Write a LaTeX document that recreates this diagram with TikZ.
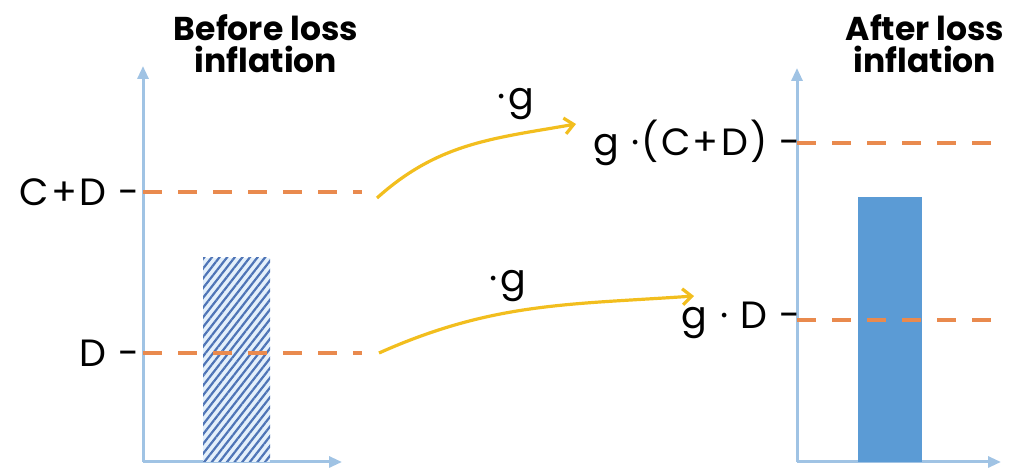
\documentclass[tikz,border=0pt]{standalone}
\usepackage{fontspec}
\setmainfont{Poppins}
\usetikzlibrary{arrows.meta,patterns.meta}

\definecolor{axisblue}{RGB}{160,195,228}
\definecolor{lvlorange}{RGB}{233,138,78}
\definecolor{arrgold}{RGB}{242,190,30}
\definecolor{barblue}{RGB}{91,155,213}
\definecolor{hatchblue}{RGB}{78,116,182}
\definecolor{hatchbg}{RGB}{228,240,251}

\begin{document}
\begin{tikzpicture}[x=1pt, y=1pt,
    axis/.style={draw=axisblue, line width=3pt, -{Triangle[length=13pt, width=11pt]}},
    level/.style={draw=lvlorange, line width=4pt, dash pattern=on 19pt off 16pt},
    gainarrow/.style={draw=arrgold, line width=3.2pt, -{Straight Barb[length=9pt, width=16pt, line width=3.2pt]}},
    lbl/.style={font=\fontsize{38}{40}\selectfont\addfontfeatures{LetterSpace=6}, inner sep=0pt},
    ttl/.style={font=\fontsize{33}{32}\selectfont\bfseries, align=center, inner sep=0pt}]
  \useasboundingbox (0,0) rectangle (1012,470);

  % Before loss inflation
  \coordinate (o1) at (143,8);
  \draw[axis] (o1) -- (143,404);
  \draw[axis] (o1) -- (342,8);
  \fill[hatchbg] (203,8) rectangle (270,212);
  \fill[pattern={Lines[angle=52, distance=6pt, line width=2.2pt]}, pattern color=hatchblue] (203,8) rectangle (270,212);
  \draw[level] (143,278) -- (362,278);
  \draw[level] (143,117) -- (362,117);
  \node[lbl, anchor=east] (cd) at (140,278) {C+D -};
  \node[lbl, anchor=east] (d) at (140,117) {D -};
  \node[ttl] (before) at (266,426) {Before loss\\inflation};

  % After loss inflation
  \coordinate (o2) at (797,8);
  \draw[axis] (o2) -- (797,402);
  \draw[axis] (o2) -- (1001,8);
  \fill[barblue] (858,8) rectangle (922,273);
  \draw[level] (797,327) -- (995,327);
  \draw[level] (797,150) -- (995,150);
  \node[lbl, anchor=east] (gcd) at (801,327) {g ·(C+D) -};
  \node[lbl, anchor=east] (gd) at (801,150) {g · D -};
  \node[ttl] (after) at (925,426) {After loss\\inflation};

  % scaling arrows
  \coordinate (cdstart) at (377,272);
  \coordinate (dstart) at (379,117);
  \coordinate (cdtip) at (576,346);
  \coordinate (dtip) at (694,174);
  \draw[gainarrow] (cdstart) to[out=42, in=190] (cdtip);
  \draw[gainarrow] (dstart) to[out=24, in=184] (dtip);
  \node[lbl] (g1) at (516,366) {·g};
  \node[lbl] (g2) at (508,184) {·g};
\end{tikzpicture}
\end{document}
